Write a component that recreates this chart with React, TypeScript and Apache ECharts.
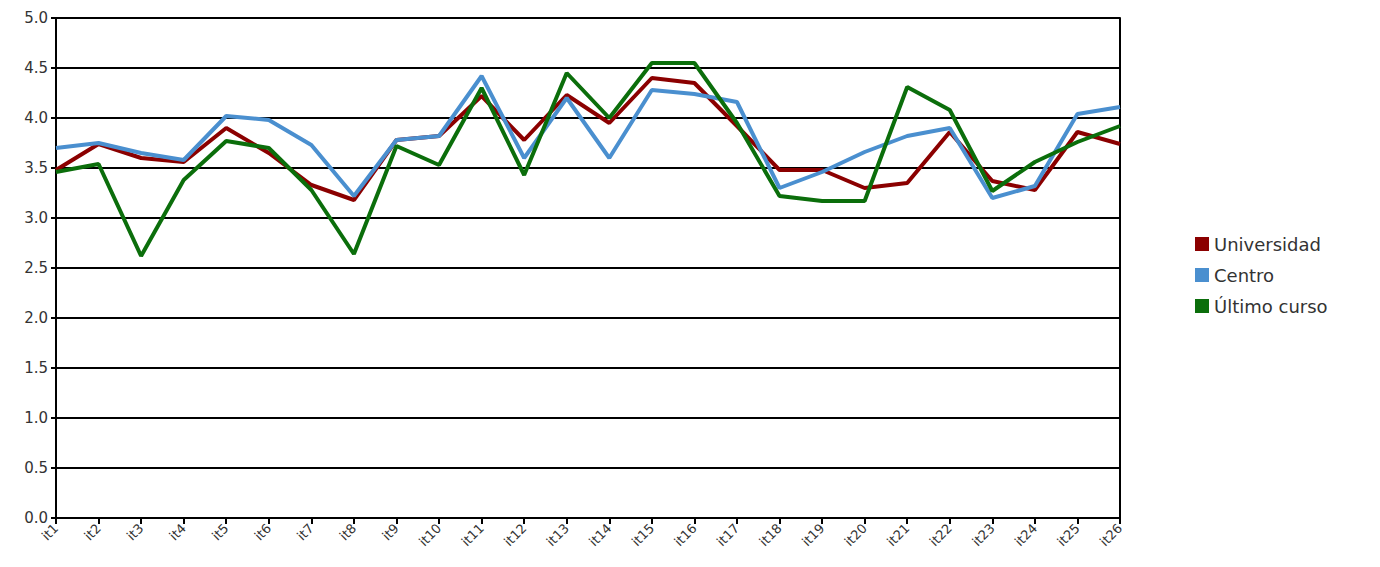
import React, { useEffect, useRef } from "react";
import * as echarts from "echarts";

const categories = Array.from({ length: 26 }, (_, i) => "it" + (i + 1));
const universidad = [3.48, 3.74, 3.6, 3.56, 3.9, 3.65, 3.33, 3.18, 3.78, 3.82, 4.22, 3.78, 4.23, 3.95, 4.4, 4.35, 3.92, 3.48, 3.48, 3.3, 3.35, 3.86, 3.37, 3.28, 3.86, 3.74];
const centro = [3.7, 3.75, 3.65, 3.58, 4.02, 3.98, 3.73, 3.22, 3.78, 3.82, 4.42, 3.6, 4.2, 3.6, 4.28, 4.24, 4.16, 3.3, 3.46, 3.66, 3.82, 3.9, 3.2, 3.32, 4.04, 4.11];
const ultimo = [3.46, 3.54, 2.62, 3.38, 3.77, 3.7, 3.28, 2.64, 3.72, 3.53, 4.3, 3.43, 4.45, 4.0, 4.55, 4.55, 3.95, 3.22, 3.17, 3.17, 4.31, 4.08, 3.27, 3.56, 3.76, 3.92];

export default function App() {
  const chartRef = useRef<HTMLDivElement | null>(null);

  useEffect(() => {
    const myChart = echarts.init(chartRef.current as HTMLDivElement, null, { renderer: "svg" });
    const line = (name: string, data: number[], color: string) => ({
      name,
      type: "line",
      data,
      symbol: "none",
      lineStyle: { color, width: 4 },
      itemStyle: { color },
    });
    myChart.setOption({
      animation: false,
      textStyle: { fontFamily: "DejaVu Sans", color: "#222" },
      grid: { left: 56, right: 260, top: 18, bottom: 49 },
      legend: {
        orient: "vertical",
        left: 1190,
        top: 230,
        icon: "rect",
        itemWidth: 14,
        itemHeight: 14,
        itemGap: 13,
        textStyle: { fontSize: 18, color: "#333", fontFamily: "DejaVu Sans" },
        data: ["Universidad", "Centro", "Último curso"],
      },
      xAxis: {
        type: "category",
        data: categories,
        boundaryGap: false,
        axisLine: { lineStyle: { color: "#000", width: 2 } },
        axisTick: { lineStyle: { color: "#000", width: 2 }, length: 6 },
        axisLabel: { rotate: 45, fontSize: 13, color: "#333", interval: 0, margin: 8 },
      },
      yAxis: [
        {
          type: "value",
          min: 0,
          max: 5,
          interval: 0.5,
          axisLine: { show: true, lineStyle: { color: "#000", width: 2 } },
          axisTick: { show: true, lineStyle: { color: "#000", width: 2 }, length: 5 },
          axisLabel: { fontSize: 15, color: "#333", formatter: (v: number) => v.toFixed(1) },
          splitLine: { lineStyle: { color: "#000", width: 2 } },
        },
        {
          type: "value",
          position: "right",
          min: 0,
          max: 5,
          interval: 0.5,
          axisLine: { show: true, lineStyle: { color: "#000", width: 2 } },
          axisTick: { show: false },
          axisLabel: { show: false },
          splitLine: { show: false },
        },
      ],
      series: [
        line("Universidad", universidad, "#8b0000"),
        line("Centro", centro, "#4a8fcf"),
        line("Último curso", ultimo, "#0b6e0b"),
      ],
    });
    return () => {
      myChart.dispose();
    };
  }, []);

  return (
    <div
      ref={chartRef}
      style={{ position: "absolute", left: 0, top: 0, width: "1380px", height: "567px", background: "#fff" }}
    />
  );
}
